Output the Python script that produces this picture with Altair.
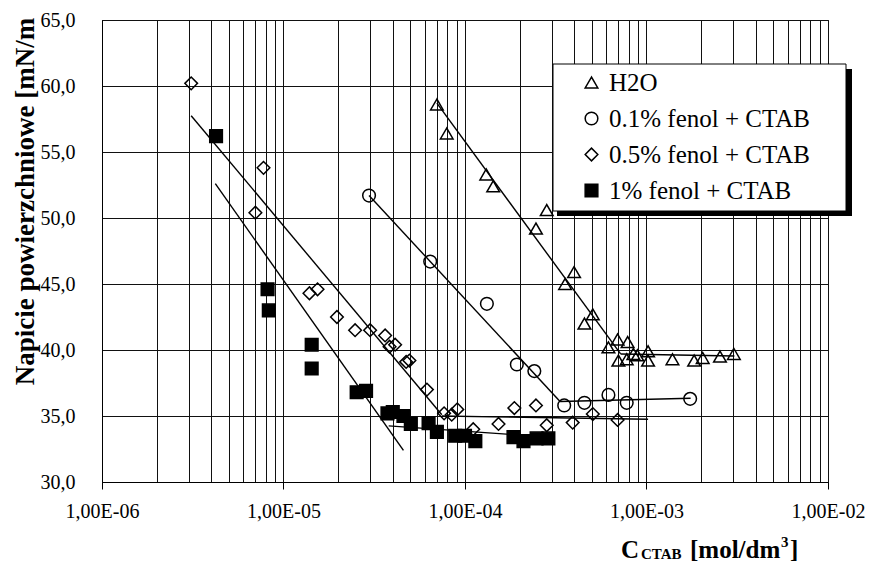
import altair as alt
import pandas as pd

# ---------------- data ----------------
series_names = ["H2O", "0.1% fenol + CTAB", "0.5% fenol + CTAB", "1% fenol + CTAB"]

h2o_c = [7.0e-5, 7.93e-5, 1.31e-4, 1.43e-4, 2.46e-4, 2.82e-4, 3.56e-4, 3.99e-4,
         4.55e-4, 5.06e-4, 6.17e-4, 6.93e-4, 7.0e-4, 7.78e-4, 7.87e-4, 8.47e-4,
         8.9e-4, 1.02e-3, 1.02e-3, 1.39e-3, 1.83e-3, 2.04e-3, 2.54e-3, 3.03e-3]
h2o_s = [58.6, 56.4, 53.3, 52.4, 49.2, 50.6, 45.0, 45.9,
         42.0, 42.7, 40.2, 40.8, 39.2, 39.3, 40.6, 39.7,
         39.6, 39.9, 39.2, 39.3, 39.2, 39.4, 39.5, 39.7]

f01_c = [2.96e-5, 6.43e-5, 1.32e-4, 1.93e-4, 2.41e-4, 3.52e-4, 4.55e-4, 6.17e-4, 7.78e-4, 1.74e-3]
f01_s = [51.7, 46.7, 43.5, 38.9, 38.4, 35.8, 36.0, 36.6, 36.0, 36.3]

f05_c = [3.1e-6, 7.0e-6, 7.76e-6, 1.39e-5, 1.54e-5, 1.97e-5, 2.48e-5, 3.0e-5,
         3.63e-5, 3.84e-5, 4.12e-5, 4.74e-5, 4.94e-5, 6.17e-5, 7.67e-5, 8.45e-5,
         9.07e-5, 1.11e-4, 1.53e-4, 1.87e-4, 2.46e-4, 2.82e-4, 3.92e-4, 5.06e-4, 6.93e-4]
f05_s = [60.2, 50.4, 53.8, 44.3, 44.6, 42.5, 41.5, 41.5,
         41.1, 40.25, 40.4, 39.1, 39.2, 37.0, 35.2, 35.1,
         35.5, 34.0, 34.4, 35.6, 35.8, 34.3, 34.5, 35.15, 34.7]

f1_c = [4.25e-6, 8.17e-6, 8.3e-6, 1.43e-5, 1.43e-5, 2.53e-5, 2.85e-5, 3.74e-5,
        4.0e-5, 4.58e-5, 5.03e-5, 6.3e-5, 7.0e-5, 8.83e-5, 1.0e-4, 1.14e-4,
        1.85e-4, 2.1e-4, 2.48e-4, 2.88e-4]
f1_s = [56.2, 44.6, 43.0, 40.4, 38.6, 36.8, 36.9, 35.2,
        35.3, 35.0, 34.4, 34.45, 33.8, 33.5, 33.5, 33.1,
        33.4, 33.1, 33.3, 33.3]

# trend-line segments (start / end of each straight piece)
fit_series = [series_names[0], series_names[0], series_names[1], series_names[1],
              series_names[2], series_names[2], series_names[3], series_names[3]]
fit_c1 = [7.0e-5, 7.2e-4, 2.96e-5, 3.34e-4, 3.1e-6, 7.45e-5, 4.21e-6, 3.8e-5]
fit_s1 = [58.7, 39.7, 51.7, 36.1, 57.75, 35.0, 52.6, 34.25]
fit_c2 = [7.2e-4, 3.05e-3, 3.34e-4, 1.75e-3, 7.45e-5, 1.02e-3, 4.58e-5, 2.9e-4]
fit_s2 = [39.7, 39.55, 36.1, 36.35, 35.1, 34.75, 32.4, 33.4]

y_ticks = [30, 35, 40, 45, 50, 55, 60, 65]
x_grid = [m * 10.0 ** k for k in range(-6, -2) for m in range(1, 10)] + [1e-2]

# ---------------- tables ----------------
rows = []
for name, cs, ss in zip(series_names, [h2o_c, f01_c, f05_c, f1_c], [h2o_s, f01_s, f05_s, f1_s]):
    for c, s in zip(cs, ss):
        rows.append({"c": c, "s": s, "series": name})
points = pd.DataFrame(rows)
segs = pd.DataFrame({"series": fit_series, "c1": fit_c1, "s1": fit_s1, "c2": fit_c2, "s2": fit_s2})
one = pd.DataFrame({"k": [0]})

FONT = "Liberation Serif"

decade_test = "abs(log(datum.value)/LN10 - round(log(datum.value)/LN10)) < 0.001"
xscale = alt.Scale(type="log", domain=[1e-6, 1e-2], nice=False)
yscale = alt.Scale(domain=[30, 65], nice=False, zero=False)

xaxis = alt.Axis(
    values=x_grid, title=None, grid=True, gridColor="#111111", gridWidth=1,
    domainColor="black", tickColor="black", tickSize=7,
    tickOpacity={"condition": {"test": decade_test, "value": 1}, "value": 0},
    labelExpr=decade_test + " ? '1,00E-0' + (-round(log(datum.value)/LN10)) : ''",
    labelFont=FONT, labelFontSize=20, labelColor="black", labelPadding=12,
    labelOverlap=False, labelFlush=False,
)
yaxis = alt.Axis(
    values=y_ticks, title="Napicie powierzchniowe [mN/m", grid=True,
    gridColor="#111111", gridWidth=1, domainColor="black", ticks=False, tickSize=0,
    labelExpr="replace(format(datum.value, '.1f'), '.', ',')",
    labelFont=FONT, labelFontSize=20, labelColor="black", labelPadding=27,
    titleFont=FONT, titleFontSize=27, titleFontWeight="bold", titleColor="black",
    titleAngle=270, titleX=-77, titleY=181, titleAlign="center", titleBaseline="middle",
)

leg = alt.Legend(title=None, labelFont=FONT, labelFontSize=25, labelColor="black",
                 labelOffset=5, symbolSize=160, symbolStrokeWidth=1.5, labelLimit=400)
shape_scale = alt.Scale(domain=series_names, range=["triangle-up", "circle", "diamond", "square"])
fill_scale = alt.Scale(domain=series_names, range=["transparent", "transparent", "transparent", "black"])
stroke_scale = alt.Scale(domain=series_names, range=["black", "black", "black", "black"])

# legend frame + shadow (drawn behind the real legend)
shadow = alt.Chart(one).mark_rect(color="black").encode(
    x=alt.value(455), x2=alt.value(750), y=alt.value(49), y2=alt.value(196))
frame = alt.Chart(one).mark_rect(fill="white", stroke="black", strokeWidth=1).encode(
    x=alt.value(451), x2=alt.value(744), y=alt.value(44), y2=alt.value(191))

fits = alt.Chart(segs).mark_rule(color="black", strokeWidth=1.4).encode(
    x=alt.X("c1:Q", scale=xscale, axis=xaxis),
    x2="c2:Q",
    y=alt.Y("s1:Q", scale=yscale, axis=yaxis),
    y2="s2:Q",
)

pts = alt.Chart(points).mark_point(filled=False, size=160, strokeWidth=1.5, opacity=1).encode(
    x=alt.X("c:Q", scale=xscale, axis=xaxis),
    y=alt.Y("s:Q", scale=yscale, axis=yaxis),
    shape=alt.Shape("series:N", scale=shape_scale, legend=leg),
    fill=alt.Fill("series:N", scale=fill_scale, legend=leg),
    stroke=alt.Stroke("series:N", scale=stroke_scale, legend=leg),
)

def piece(txt, x, y, size):
    return alt.Chart(one).mark_text(
        text=txt, font=FONT, fontSize=size, fontWeight="bold", color="black",
        align="left", baseline="alphabetic").encode(x=alt.value(x), y=alt.value(y))

xtitle = (piece("C", 519, 538, 25) + piece("CTAB", 539, 539, 15) +
          piece("[mol/dm", 588, 538, 25) + piece("3", 679, 527, 15) +
          piece("]", 688, 538, 25))

chart = alt.layer(shadow, frame, fits, pts, xtitle).properties(
    width=726, height=462,
    padding={"left": 102, "top": 20, "right": 46, "bottom": 83},
    autosize="none", background="white",
).configure(
    font=FONT
).configure_view(
    stroke="black", strokeWidth=1
).configure_legend(
    orient="none", legendX=477, legendY=50, padding=0, rowPadding=10,
    labelFont=FONT, labelFontSize=25, labelColor="black", labelOffset=5,
    symbolSize=160, symbolStrokeWidth=1.5, labelLimit=400,
)

chart.save("out.html", embed_options={"renderer": "svg", "actions": False})
